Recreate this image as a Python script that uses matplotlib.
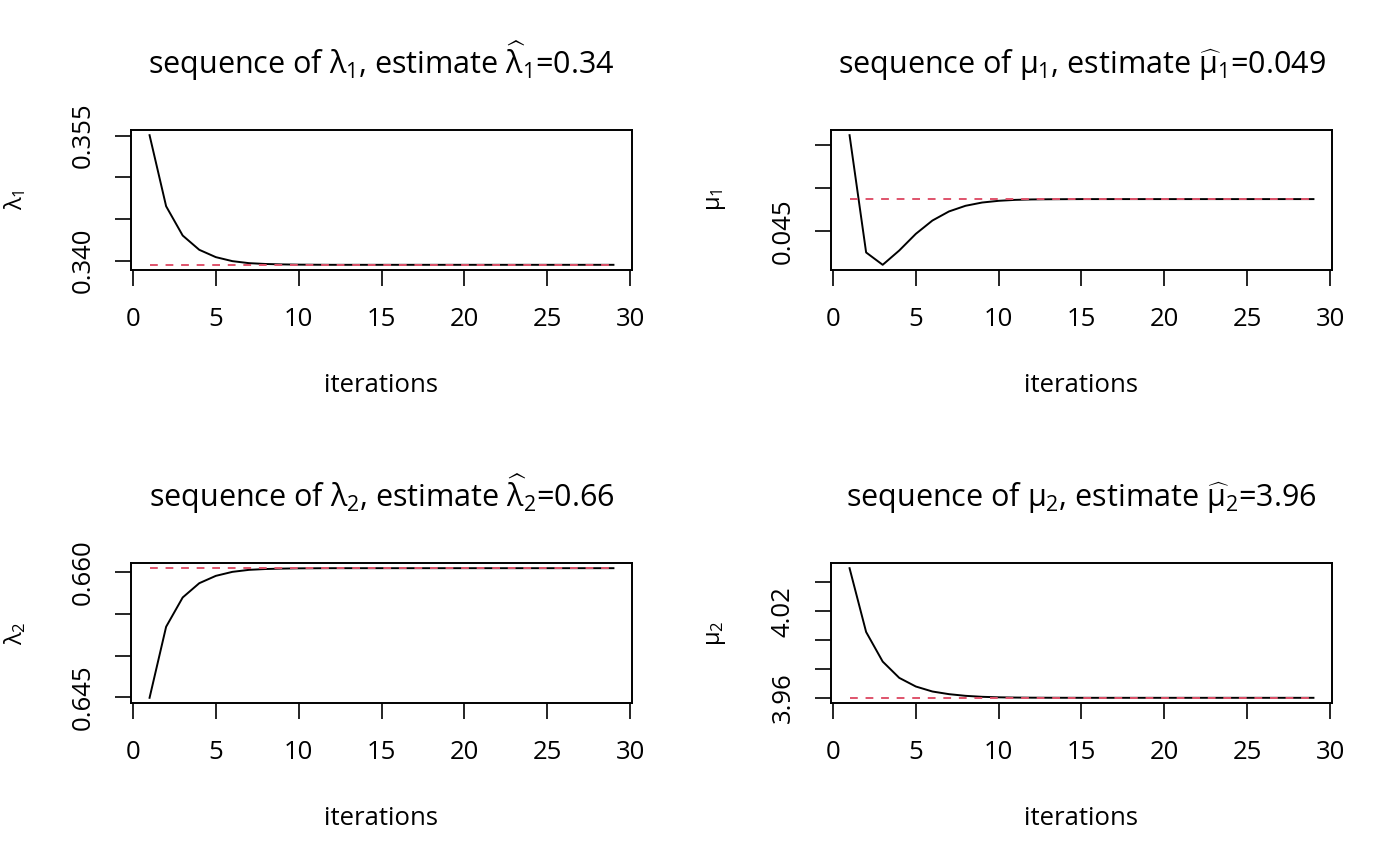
import matplotlib
matplotlib.use("Agg")
import matplotlib.pyplot as plt

plt.rcParams['font.family'] = ['Open Sans', 'DejaVu Sans']
plt.rcParams['mathtext.fontset'] = 'custom'
plt.rcParams['mathtext.rm'] = 'Open Sans'
plt.rcParams['mathtext.it'] = 'Open Sans'
plt.rcParams['mathtext.bf'] = 'Open Sans:bold'

iterations = list(range(1, 30))

lambda1 = [0.35504, 0.34652, 0.34301, 0.34130, 0.34042, 0.33994, 0.33970, 0.33960,
           0.33955, 0.33952, 0.33951, 0.33950, 0.33950, 0.33950, 0.33950, 0.33950,
           0.33950, 0.33950, 0.33950, 0.33950, 0.33950, 0.33950, 0.33950, 0.33950,
           0.33950, 0.33950, 0.33950, 0.33950, 0.33950]
lambda2 = [0.64496, 0.65348, 0.65699, 0.65870, 0.65958, 0.66006, 0.66030, 0.66040,
           0.66045, 0.66048, 0.66049, 0.66050, 0.66050, 0.66050, 0.66050, 0.66050,
           0.66050, 0.66050, 0.66050, 0.66050, 0.66050, 0.66050, 0.66050, 0.66050,
           0.66050, 0.66050, 0.66050, 0.66050, 0.66050]
mu1 = [0.05619, 0.04252, 0.04108, 0.04275, 0.04469, 0.04624, 0.04730, 0.04796,
       0.04834, 0.04854, 0.04865, 0.04870, 0.04872, 0.04873, 0.04874, 0.04874,
       0.04874, 0.04874, 0.04874, 0.04874, 0.04874, 0.04874, 0.04874, 0.04874,
       0.04874, 0.04874, 0.04874, 0.04874, 0.04874]
mu2 = [4.04990, 4.00565, 3.98513, 3.97383, 3.96784, 3.96438, 3.96254, 3.96138,
       3.96070, 3.96035, 3.96018, 3.96009, 3.96005, 3.96002, 3.96001, 3.96000,
       3.96000, 3.96000, 3.96000, 3.96000, 3.96000, 3.96000, 3.96000, 3.96000,
       3.96000, 3.96000, 3.96000, 3.96000, 3.96000]

estimates = [0.3395, 0.04874, 0.6605, 3.96]
est_text = ['0.34', '0.049', '0.66', '3.96']
symbols = [r'\lambda_1', r'\mu_1', r'\lambda_2', r'\mu_2']
hats = [r'\widehat{\lambda}_1', r'\widehat{\mu}_1', r'\widehat{\lambda}_2', r'\widehat{\mu}_2']
yticks = [[0.340, 0.345, 0.350, 0.355], [0.045, 0.050, 0.055],
          [0.645, 0.650, 0.655, 0.660], [3.96, 3.98, 4.00, 4.02, 4.04]]
ytick_labels = [['0.340', '', '', '0.355'], ['0.045', '', ''],
                ['0.645', '', '', '0.660'], ['3.96', '', '', '4.02', '']]
xticks = [0, 5, 10, 15, 20, 25, 30]
series = [lambda1, mu1, lambda2, mu2]

W, H = 1400, 866
fig = plt.figure(figsize=(14, 8.66), dpi=100)
boxes = [(131, 130), (831, 130), (131, 563), (831, 563)]

for i in range(4):
    bx, by = boxes[i]
    ax = fig.add_axes([bx / W, 1 - (by + 140) / H, 501 / W, 140 / H])
    ax.plot(iterations, series[i], color='black', lw=1.4)
    ax.plot(iterations, [estimates[i]] * len(iterations), color='#DF536B',
            lw=1.4, linestyle=(0, (4, 4)))
    ax.margins(x=0.04, y=0.04)
    ax.set_xticks(xticks)
    ax.set_yticks(yticks[i])
    ax.set_yticklabels(ytick_labels[i], rotation=90, va='center')
    ax.tick_params(axis='both', direction='out', length=11.5, width=1.2,
                   labelsize=18.5)
    ax.tick_params(axis='x', pad=15)
    ax.tick_params(axis='y', pad=14)
    for s in ax.spines.values():
        s.set_linewidth(1.4)
    title = ('sequence of $' + symbols[i] + '$, estimate $' + hats[i]
             + '$=' + est_text[i])
    ax.set_title(title, fontsize=22, pad=40)
    ax.set_xlabel('iterations', fontsize=18.5)
    ax.xaxis.set_label_coords(0.5, -0.735)
    ax.set_ylabel('$' + symbols[i] + '$', fontsize=17)
    ax.yaxis.set_label_coords(-0.205, 0.5)

fig.savefig('out.png', dpi=100)
